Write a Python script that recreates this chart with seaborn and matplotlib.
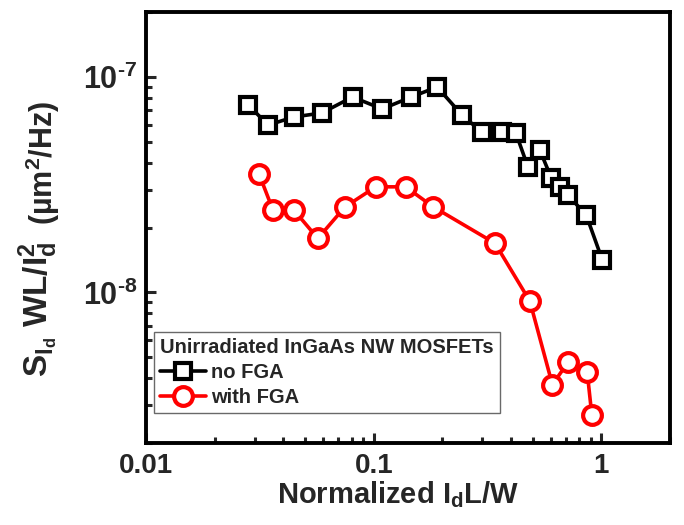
import numpy as np
import pandas as pd
import matplotlib
matplotlib.use("Agg")
import matplotlib.pyplot as plt
import matplotlib.ticker as mticker
import seaborn as sns

# data
id_no_fga = [0.0281, 0.0344, 0.0446, 0.0591, 0.0807, 0.109, 0.146, 0.190, 0.244,
             0.298, 0.365, 0.421, 0.476, 0.536, 0.603, 0.656, 0.713, 0.858, 1.01]
s_no_fga = [7.41e-8, 5.98e-8, 6.52e-8, 6.80e-8, 8.07e-8, 7.10e-8, 8.07e-8, 8.98e-8, 6.66e-8,
            5.55e-8, 5.55e-8, 5.49e-8, 3.81e-8, 4.58e-8, 3.39e-8, 3.08e-8, 2.83e-8, 2.28e-8, 1.41e-8]

id_fga = [0.0313, 0.0361, 0.0446, 0.0568, 0.0747, 0.102, 0.138, 0.183, 0.341,
          0.485, 0.609, 0.713, 0.866, 0.907]
s_fga = [3.56e-8, 2.41e-8, 2.41e-8, 1.78e-8, 2.49e-8, 3.09e-8, 3.09e-8, 2.49e-8, 1.69e-8,
         9.1e-9, 3.73e-9, 4.74e-9, 4.26e-9, 2.71e-9]

legend_title = "Unirradiated InGaAs NW MOSFETs"
labels = ["no FGA", "with FGA"]

sns.set_style("ticks")
plt.rcParams['font.family'] = ['Liberation Sans', 'DejaVu Sans']
plt.rcParams['font.weight'] = 'bold'
plt.rcParams['mathtext.fontset'] = 'custom'
plt.rcParams['mathtext.rm'] = 'Liberation Sans:bold'
plt.rcParams['mathtext.bf'] = 'Liberation Sans:bold'
plt.rcParams['mathtext.it'] = 'Liberation Sans:bold'
plt.rcParams['mathtext.default'] = 'rm'

fig = plt.figure(figsize=(6.84, 5.25), dpi=100)
ax = fig.add_axes([0.2135, 0.1562, 0.766, 0.8208])

df1 = pd.DataFrame({'x': id_no_fga, 'y': s_no_fga})
df2 = pd.DataFrame({'x': id_fga, 'y': s_fga})

sns.lineplot(data=df1, x='x', y='y', ax=ax, sort=False, color='black', lw=2.6,
             marker='s', markersize=12, markerfacecolor='white', markeredgecolor='black',
             markeredgewidth=3.0, label=labels[0])
sns.lineplot(data=df2, x='x', y='y', ax=ax, sort=False, color='red', lw=2.6,
             marker='o', markersize=13.5, markerfacecolor='white', markeredgecolor='red',
             markeredgewidth=3.0, label=labels[1])

ax.set_xscale('log')
ax.set_yscale('log')
ax.set_xlim(0.01, 2)
ax.set_ylim(2e-9, 2e-7)

for s in ax.spines.values():
    s.set_linewidth(2.8)
    s.set_color('black')

ax.tick_params(which='both', direction='in', top=False, right=False, width=2.2)
ax.tick_params(which='major', length=7)
ax.tick_params(which='minor', length=4.5)
ax.tick_params(axis='x', which='major', labelsize=20, pad=7)
ax.tick_params(axis='y', which='major', labelsize=22, pad=6)

ax.xaxis.set_major_locator(mticker.FixedLocator([0.01, 0.1, 1]))
ax.xaxis.set_major_formatter(mticker.FixedFormatter(['0.01', '0.1', '1']))
ax.xaxis.set_minor_locator(mticker.LogLocator(subs=np.arange(2, 10)))
ax.xaxis.set_minor_formatter(mticker.NullFormatter())
ax.yaxis.set_major_locator(mticker.FixedLocator([1e-8, 1e-7]))
ax.yaxis.set_major_formatter(mticker.FixedFormatter([r'$10^{\text{-}8}$', r'$10^{\text{-}7}$']))
ax.yaxis.set_minor_locator(mticker.LogLocator(subs=np.arange(2, 10)))
ax.yaxis.set_minor_formatter(mticker.NullFormatter())

ax.set_xlabel(r'Normalized I$_\mathregular{d}$L/W', fontsize=21, fontweight='bold')
ax.xaxis.set_label_coords(0.481, -0.085)
ax.set_ylabel('')
ax.text(-0.187, 0.153, r'S$_{I_d}$ WL/I$_d^2$', transform=ax.transAxes, rotation=90,
        rotation_mode='anchor', ha='left', va='baseline', fontsize=24, fontweight='bold')
ax.text(-0.177, 0.505, r'(µm$^2$/Hz)', transform=ax.transAxes, rotation=90,
        rotation_mode='anchor', ha='left', va='baseline', fontsize=22, fontweight='bold')

leg = ax.legend(title=legend_title, loc='lower left', bbox_to_anchor=(0.008, 0.06),
                fontsize=14.5, title_fontsize=14.5, alignment='left', frameon=True,
                fancybox=False, handlelength=2.25, handletextpad=0.25, borderpad=0.3,
                labelspacing=0.3, borderaxespad=0.2)
leg.get_frame().set_edgecolor('#444444')
leg.get_frame().set_linewidth(1.0)
leg.get_title().set_fontweight('bold')

fig.savefig('out.png', dpi=100)
